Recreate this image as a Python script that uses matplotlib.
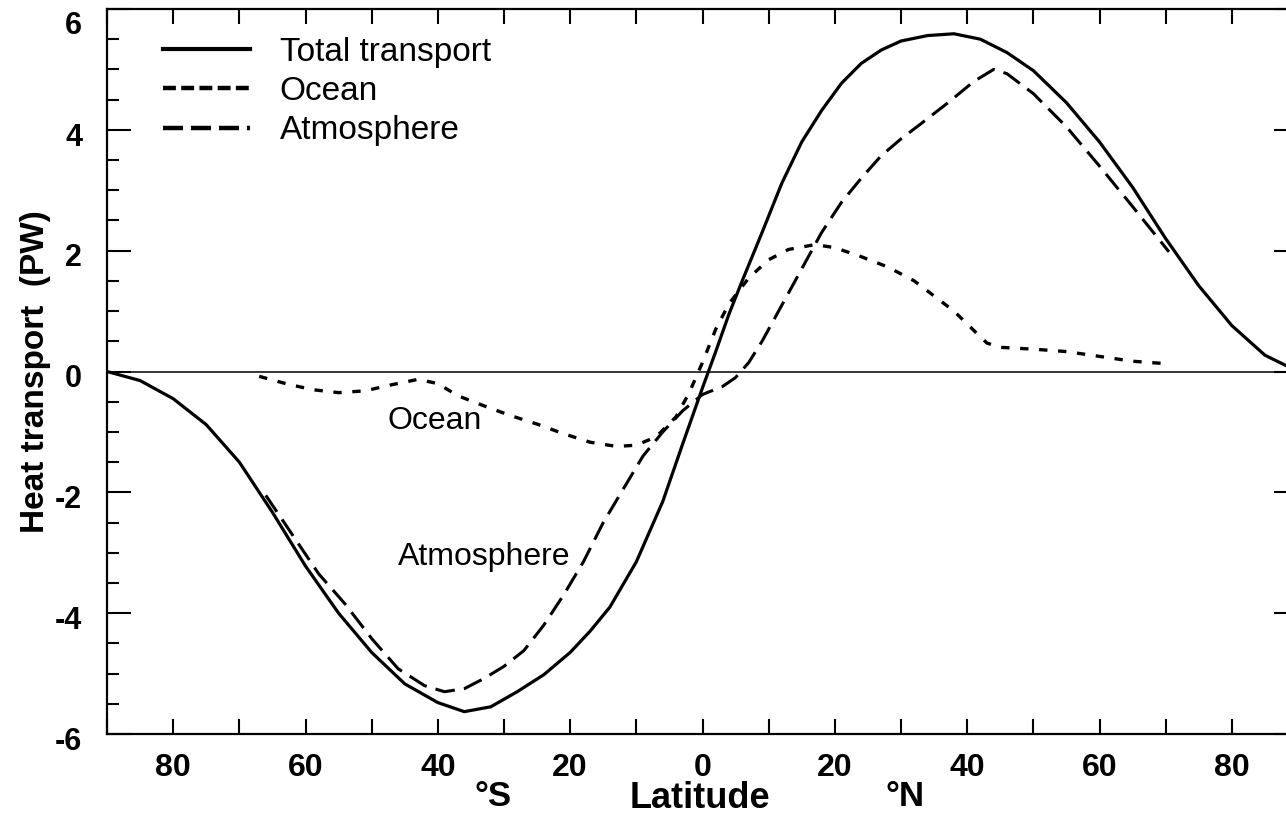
import numpy as np
import matplotlib.pyplot as plt
from matplotlib.lines import Line2D
from matplotlib.ticker import MultipleLocator, FixedLocator, FuncFormatter
import matplotlib.transforms as mtransforms

plt.rcParams['font.family'] = ['Liberation Sans', 'DejaVu Sans']
plt.rcParams['axes.unicode_minus'] = False

# -----------------------------------
# Data (latitude in degrees, negative = south; transport in PW)
# -----------------------------------
total_lat = [-90, -85, -80, -75, -70, -65, -60, -55, -50, -45, -40, -36, -32,
             -28, -24, -20, -17, -14, -10, -6, -3, 0, 2, 4, 6, 9, 12, 15, 18,
             21, 24, 27, 30, 34, 38, 42, 46, 50, 55, 60, 65, 70, 75, 80, 85, 90]
total_pw = [0.0, -0.15, -0.45, -0.88, -1.5, -2.33, -3.22, -4.0, -4.65, -5.17,
            -5.48, -5.63, -5.55, -5.3, -5.02, -4.65, -4.3, -3.9, -3.15, -2.15,
            -1.2, -0.27, 0.33, 0.95, 1.5, 2.3, 3.12, 3.8, 4.32, 4.77, 5.1,
            5.32, 5.47, 5.56, 5.59, 5.5, 5.28, 4.98, 4.45, 3.8, 3.05, 2.2,
            1.42, 0.76, 0.27, 0.0]

ocean_lat = [-67, -63, -59, -55, -51, -47, -43, -40, -37, -33, -29, -25, -21,
             -17, -13, -10, -7, -4, -2, 0, 2, 4, 7, 10, 13, 17, 20, 24, 28,
             32, 35, 38, 41, 43, 45, 50, 55, 60, 65, 70]
ocean_pw = [-0.08, -0.2, -0.3, -0.35, -0.32, -0.22, -0.13, -0.2, -0.4, -0.57,
            -0.73, -0.87, -1.03, -1.17, -1.24, -1.22, -1.08, -0.75, -0.35,
            0.15, 0.7, 1.12, 1.55, 1.85, 2.02, 2.1, 2.05, 1.9, 1.73, 1.5,
            1.25, 1.0, 0.68, 0.47, 0.4, 0.37, 0.33, 0.25, 0.17, 0.13]

atmos_lat = [-66, -62, -58, -54, -50, -46, -42, -39, -36, -33, -30, -27, -24,
             -21, -18, -15, -12, -9, -6, -3, 0, 3, 5, 7, 9, 12, 15, 18, 21,
             24, 27, 30, 33, 37, 41, 44, 46, 50, 55, 60, 65, 70.5]
atmos_pw = [-2.05, -2.7, -3.35, -3.85, -4.42, -4.92, -5.2, -5.3, -5.25, -5.08,
            -4.88, -4.62, -4.2, -3.7, -3.15, -2.5, -1.95, -1.4, -1.0, -0.65,
            -0.38, -0.25, -0.1, 0.15, 0.5, 1.1, 1.7, 2.3, 2.8, 3.2, 3.57,
            3.85, 4.1, 4.44, 4.8, 5.0, 4.93, 4.6, 4.05, 3.4, 2.73, 1.98]

x_ticks = [-80, -60, -40, -20, 0, 20, 40, 60, 80]
y_ticks = [-6, -4, -2, 0, 2, 4, 6]

# -----------------------------------
# Figure
# -----------------------------------
fig = plt.figure(figsize=(12.86, 8.17), dpi=100)
ax = fig.add_axes([107 / 1286, 83 / 817, 1191 / 1286, 725 / 817])

ax.axhline(0, color='black', lw=1.1, zorder=1)

ax.plot(total_lat, total_pw, color='black', lw=2.3, solid_capstyle='butt',
        solid_joinstyle='round')
ax.plot(ocean_lat, ocean_pw, color='black', lw=2.4,
        dashes=(2.5, 3.2), dash_capstyle='butt')
ax.plot(atmos_lat, atmos_pw, color='black', lw=2.2,
        dashes=(6.5, 3.0), dash_capstyle='butt')

ax.set_xlim(-90, 90)
ax.set_ylim(-6, 6)

# ticks
ax.xaxis.set_major_locator(FixedLocator(x_ticks))
ax.xaxis.set_minor_locator(MultipleLocator(10))
ax.xaxis.set_major_formatter(FuncFormatter(lambda v, p: f"{abs(int(v))}"))
ax.yaxis.set_major_locator(FixedLocator(y_ticks))
ax.yaxis.set_minor_locator(MultipleLocator(0.5))

ax.tick_params(axis='both', which='both', direction='in',
               top=True, right=True, width=1.5, colors='black')
ax.tick_params(axis='x', which='both', length=11, pad=14,
               labelsize=23)
ax.tick_params(axis='y', which='major', length=17, pad=18, labelsize=22)
ax.tick_params(axis='y', which='minor', length=8.5)

for lab in ax.get_xticklabels() + ax.get_yticklabels():
    lab.set_fontweight('bold')

# nudge the y labels a little downward like the original
ylabs = ax.get_yticklabels()
for i, lab in enumerate(ylabs):
    dy = -3 if i < len(ylabs) - 1 else -10
    shift = mtransforms.ScaledTranslation(0, dy / 72, fig.dpi_scale_trans)
    lab.set_transform(lab.get_transform() + shift)

for sp in ax.spines.values():
    sp.set_linewidth(1.6)

ax.set_ylabel("Heat transport  (PW)", fontsize=24, fontweight='bold',
              labelpad=3)

# x label pieces
fig.text(493 / 1286, 1 - 797 / 817, "°S", fontsize=25, fontweight='bold',
         ha='center', va='center')
fig.text(700 / 1286, 1 - 799 / 817, "Latitude", fontsize=26,
         fontweight='bold', ha='center', va='center')
fig.text(905 / 1286, 1 - 797 / 817, "°N", fontsize=25, fontweight='bold',
         ha='center', va='center')

# inline labels
ax.text(-40.5, -0.82, "Ocean", fontsize=23, ha='center', va='center')
ax.text(-33, -3.07, "Atmosphere", fontsize=23, ha='center', va='center')

# legend
handles = [
    Line2D([], [], color='black', lw=3.0),
    Line2D([], [], color='black', lw=3.2, dashes=(2.9, 1.2),
           dash_capstyle='butt'),
    Line2D([], [], color='black', lw=3.2, dashes=(4.5, 1.8),
           dash_capstyle='butt'),
]
ax.legend(handles, ["Total transport", "Ocean", "Atmosphere"],
          loc='upper left', bbox_to_anchor=(0.047, 0.962), frameon=False,
          fontsize=24, handlelength=2.6, handletextpad=0.9,
          labelspacing=0.25, borderpad=0, borderaxespad=0)

fig.savefig("out.png", dpi=100)
